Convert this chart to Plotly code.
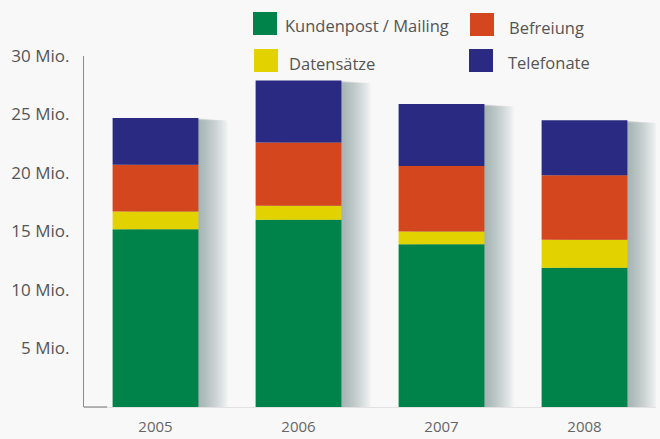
import plotly.graph_objects as go

# Jahre und Werte in Millionen
jahre = ["2005", "2006", "2007", "2008"]
kundenpost = [15.2, 16.0, 13.9, 11.9]
datensaetze = [1.5, 1.2, 1.1, 2.4]
befreiung = [4.0, 5.4, 5.6, 5.5]
telefonate = [4.0, 5.3, 5.3, 4.7]

y_ticks = [5, 10, 15, 20, 25, 30]
y_tick_text = ["5 Mio.", "10 Mio.", "15 Mio.", "20 Mio.", "25 Mio.", "30 Mio."]

serien = [
    ("Kundenpost / Mailing", kundenpost, "#00834a"),
    ("Datensätze", datensaetze, "#e2d300"),
    ("Befreiung", befreiung, "#d3461e"),
    ("Telefonate", telefonate, "#2a2a82"),
]

W, H = 660, 439
L, R, T, B = 84, 4, 56, 32
PW, PH = W - L - R, H - T - B


def px_x(px):
    return (px - L) / PW


def px_y(py):
    return (H - B - py) / PH


BAR_W = 0.6
fig = go.Figure()

# weicher Schatten rechts neben den Säulen
summen = [sum(v) for v in zip(kundenpost, datensaetze, befreiung, telefonate)]
for i in range(1, 19):
    dx = 0.0115 * i
    fig.add_trace(go.Bar(
        x=jahre, y=[s - 0.012 * i for s in summen], width=BAR_W,
        offset=-BAR_W / 2 + dx,
        marker=dict(color="rgba(110,116,124,0.04)", line=dict(width=0)),
        showlegend=False, hoverinfo="skip",
    ))

# gestapelte Segmente über explizite Basis
basis = [0.0] * len(jahre)
for name, werte, farbe in serien:
    fig.add_trace(go.Bar(
        x=jahre, y=werte, base=list(basis), width=BAR_W,
        offset=-BAR_W / 2, name=name,
        marker=dict(color=farbe, line=dict(width=0)),
        showlegend=False,
    ))
    basis = [b + v for b, v in zip(basis, werte)]

# Legende aus Quadraten und Beschriftungen
legende = [
    ("Kundenpost / Mailing", "#00834a", 253, 12, 283, 25),
    ("Befreiung", "#d3461e", 470, 13, 507, 28),
    ("Datensätze", "#e2d300", 254, 49, 287, 63),
    ("Telefonate", "#2a2a82", 469, 49, 506, 62),
]
shapes = []
annotations = []
for text, farbe, sx, sy, tx, ty in legende:
    shapes.append(dict(
        type="rect", xref="paper", yref="paper",
        x0=px_x(sx), x1=px_x(sx + 24), y0=px_y(sy + 23), y1=px_y(sy),
        fillcolor=farbe, line=dict(width=0), layer="above",
    ))
    annotations.append(dict(
        text=text, xref="paper", yref="paper", x=px_x(tx), y=px_y(ty),
        xanchor="left", yanchor="middle", showarrow=False,
        font=dict(family="Open Sans", size=16.5, color="#555555"),
    ))

# kurzes dunkles Stück der Grundlinie
shapes.append(dict(
    type="line", xref="paper", yref="paper",
    x0=0, x1=px_x(107), y0=0, y1=0,
    line=dict(color="#8a8a8a", width=1.2),
))

fig.update_layout(
    width=W, height=H,
    margin=dict(l=L, r=R, t=T, b=B),
    paper_bgcolor="#f8f8f8", plot_bgcolor="rgba(0,0,0,0)",
    barmode="overlay",
    showlegend=False,
    shapes=shapes, annotations=annotations,
    xaxis=dict(
        type="category", range=[-0.5, 3.5],
        showgrid=False, zeroline=False,
        showline=True, linecolor="#e2e2e2", linewidth=1,
        ticks="", ticklabelstandoff=6,
        tickfont=dict(family="Open Sans", size=15, color="#666666"),
    ),
    yaxis=dict(
        range=[0, 30], tickvals=y_ticks, ticktext=y_tick_text,
        showgrid=False, zeroline=False,
        showline=True, linecolor="#8a8a8a", linewidth=1.2,
        ticks="", ticklabelstandoff=10,
        tickfont=dict(family="Open Sans", size=17, color="#555555"),
    ),
)

fig.write_html("out.html")
